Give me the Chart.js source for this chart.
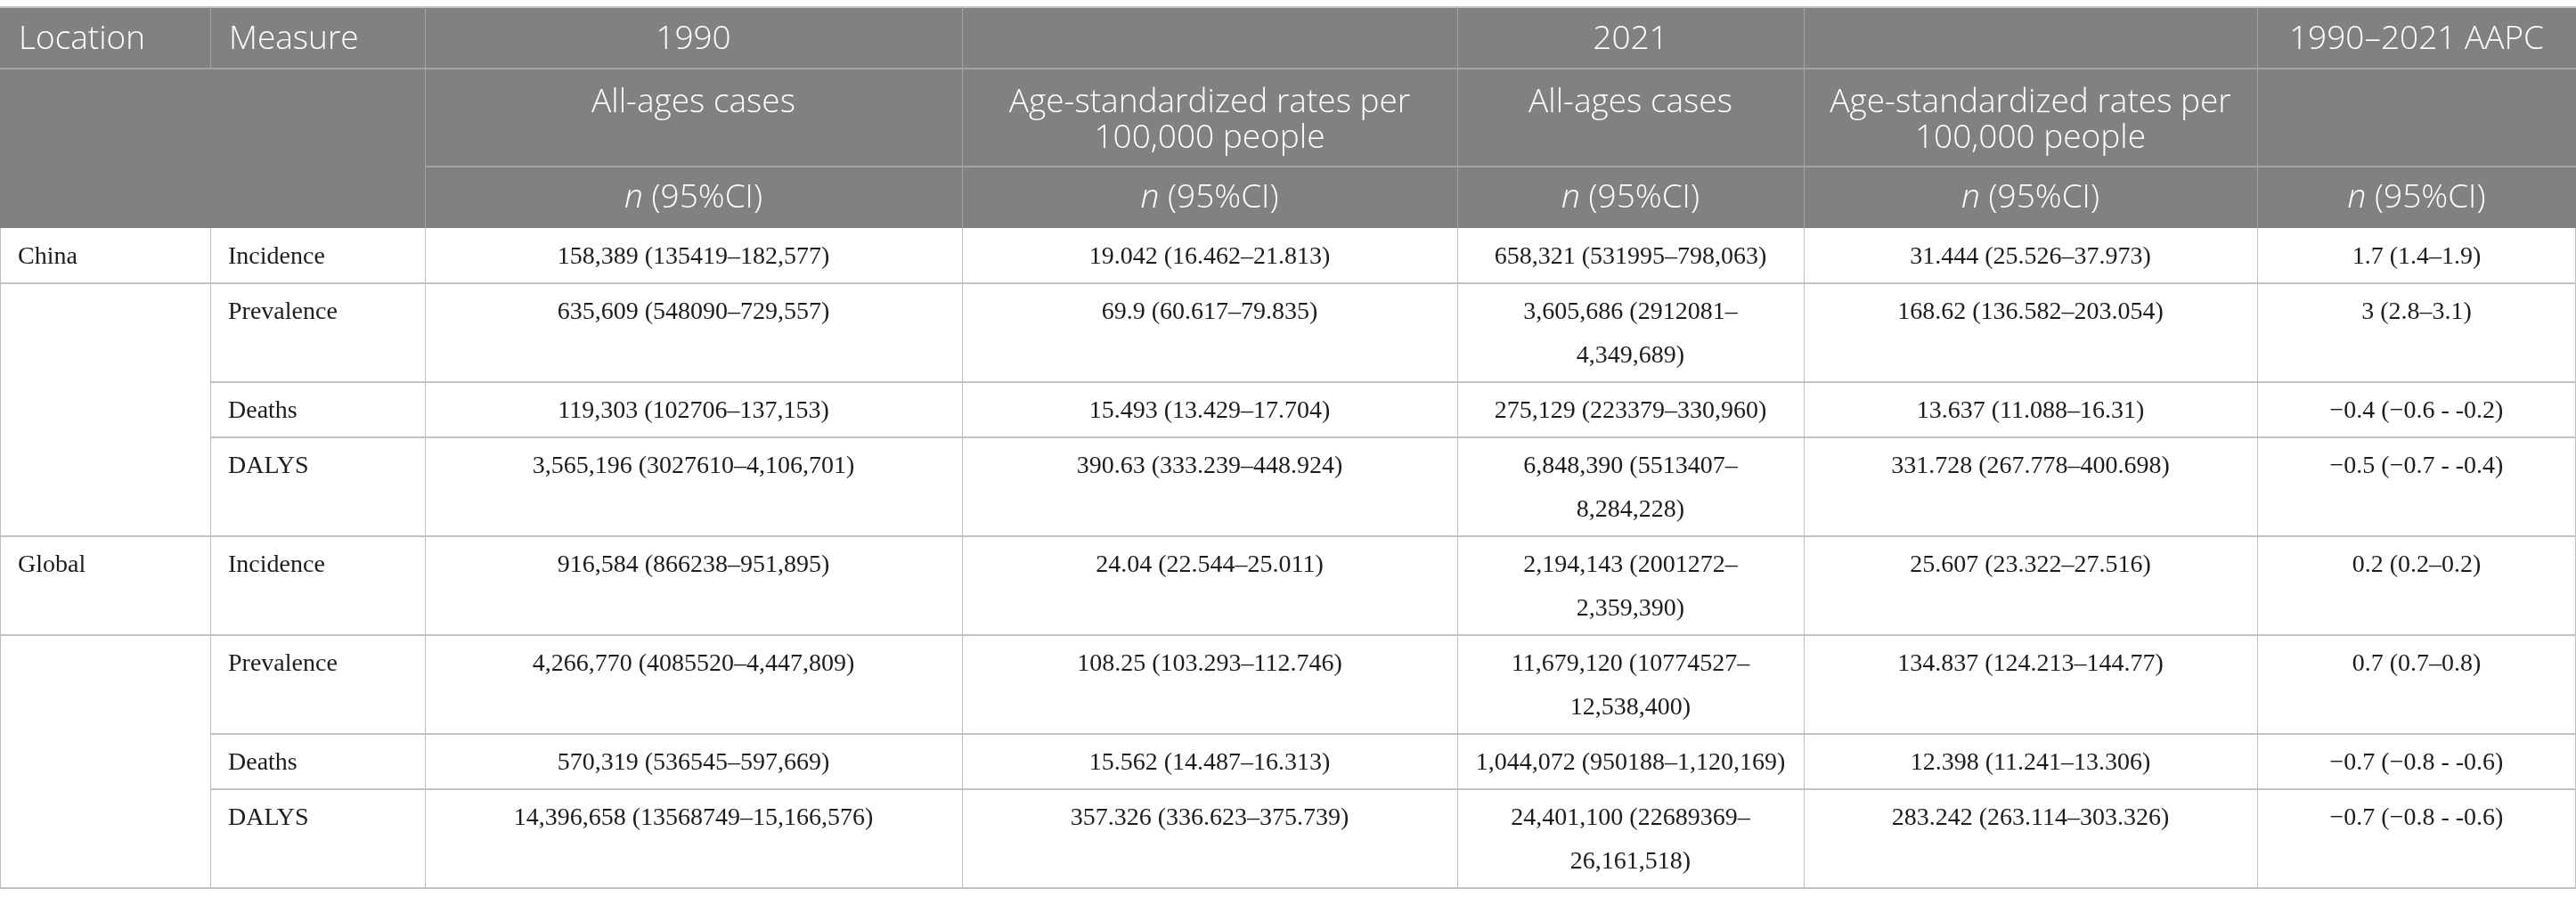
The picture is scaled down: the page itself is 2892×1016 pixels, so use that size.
<!DOCTYPE html>
<html>
<head>
<meta charset="utf-8">
<script src="https://cdn.jsdelivr.net/npm/chart.js@4"></script>
<style>
  html, body { margin: 0; padding: 0; background: #fff; }
  #wrap { width: 2892px; height: 1016px; position: relative; }
</style>
</head>
<body>
<div id="wrap"><canvas id="tabla"></canvas></div>
<script>
// table contents
const yearHeaders = ['Location', 'Measure', '1990', '', '2021', '', '1990–2021 AAPC'];
const subHeaders = ['', '', 'All-ages cases', 'Age-standardized rates per 100,000 people',
                    'All-ages cases', 'Age-standardized rates per 100,000 people', ''];
const unitHeaders = ['', '', 'n (95%CI)', 'n (95%CI)', 'n (95%CI)', 'n (95%CI)', 'n (95%CI)'];

const locations = ['China', 'Global'];
const measures = ['Incidence', 'Prevalence', 'Deaths', 'DALYS'];

const cases1990 = ['158,389 (135419–182,577)', '635,609 (548090–729,557)', '119,303 (102706–137,153)',
  '3,565,196 (3027610–4,106,701)', '916,584 (866238–951,895)', '4,266,770 (4085520–4,447,809)',
  '570,319 (536545–597,669)', '14,396,658 (13568749–15,166,576)'];
const rates1990 = ['19.042 (16.462–21.813)', '69.9 (60.617–79.835)', '15.493 (13.429–17.704)',
  '390.63 (333.239–448.924)', '24.04 (22.544–25.011)', '108.25 (103.293–112.746)',
  '15.562 (14.487–16.313)', '357.326 (336.623–375.739)'];
const cases2021 = ['658,321 (531995–798,063)', '3,605,686 (2912081–4,349,689)', '275,129 (223379–330,960)',
  '6,848,390 (5513407–8,284,228)', '2,194,143 (2001272–2,359,390)', '11,679,120 (10774527–12,538,400)',
  '1,044,072 (950188–1,120,169)', '24,401,100 (22689369–26,161,518)'];
const rates2021 = ['31.444 (25.526–37.973)', '168.62 (136.582–203.054)', '13.637 (11.088–16.31)',
  '331.728 (267.778–400.698)', '25.607 (23.322–27.516)', '134.837 (124.213–144.77)',
  '12.398 (11.241–13.306)', '283.242 (263.114–303.326)'];
const aapc = ['1.7 (1.4–1.9)', '3 (2.8–3.1)', '−0.4 (−0.6 - -0.2)', '−0.5 (−0.7 - -0.4)',
  '0.2 (0.2–0.2)', '0.7 (0.7–0.8)', '−0.7 (−0.8 - -0.6)', '−0.7 (−0.8 - -0.6)'];

// layout (in scale units = px)
const colWidths = [236, 241, 603, 556, 389, 509, 358];
const tableTop = 8;
const headHeights = [69, 110, 69];
const bodyRow = 62, bodyLine = 49, headLine = 40;
const W = colWidths.reduce((a, b) => a + b, 0);
const H = 1016;

const headFont = '300 37px "Open Sans"';
const headItalic = 'italic 300 37px "Open Sans"';
const bodyFont = '28px "Liberation Serif"';

const edges = [0];
colWidths.forEach(w => edges.push(edges[edges.length - 1] + w));

function wrap(ctx, text, maxW) {
  const parts = text.match(/[^ –]*[ –]?/g).filter(p => p.length);
  const lines = [];
  let line = '';
  parts.forEach(p => {
    const test = line + p;
    if (line && ctx.measureText(test.trimEnd()).width > maxW) {
      lines.push(line.trimEnd());
      line = p;
    } else {
      line = test;
    }
  });
  if (line) lines.push(line.trimEnd());
  return lines;
}

function hline(ctx, x0, x1, y, color, w) {
  ctx.strokeStyle = color; ctx.lineWidth = w;
  ctx.beginPath(); ctx.moveTo(x0, y); ctx.lineTo(x1, y); ctx.stroke();
}
function vline(ctx, x, y0, y1, color, w) {
  ctx.strokeStyle = color; ctx.lineWidth = w;
  ctx.beginPath(); ctx.moveTo(x, y0); ctx.lineTo(x, y1); ctx.stroke();
}

const tablePlugin = {
  id: 'tabla',
  afterDraw(chart) {
    const ctx = chart.ctx;
    const xs = chart.scales.x, ys = chart.scales.y;
    const X = v => xs.getPixelForValue(v);
    const Y = v => ys.getPixelForValue(v);

    // header rows
    const hEdges = [tableTop];
    headHeights.forEach(h => hEdges.push(hEdges[hEdges.length - 1] + h));
    const headBottom = hEdges[3];

    // body rows, height from wrapped lines
    ctx.font = bodyFont;
    const rows = [];
    locations.forEach((loc, li) => {
      measures.forEach((m, mi) => {
        const i = li * measures.length + mi;
        const cells = [mi === 0 ? loc : '', m, cases1990[i], rates1990[i], cases2021[i], rates2021[i], aapc[i]];
        const wrapped = cells.map((c, ci) => ci < 2 ? [c] : wrap(ctx, c, colWidths[ci] - 34));
        const n = Math.max(...wrapped.map(w => w.length));
        rows.push({ wrapped, n, first: mi === 0, last: mi === measures.length - 1 });
      });
    });
    const bEdges = [headBottom];
    rows.forEach(r => bEdges.push(bEdges[bEdges.length - 1] + bodyRow + bodyLine * (r.n - 1)));

    ctx.save();
    // header background
    ctx.fillStyle = '#808180';
    ctx.fillRect(X(0), Y(tableTop), X(W) - X(0), Y(headBottom) - Y(tableTop));

    // header grid
    const hc = '#a2a3a2';
    hline(ctx, X(0), X(W), Y(tableTop), '#c4c4c4', 2);
    hline(ctx, X(0), X(W), Y(hEdges[1]), hc, 2);
    hline(ctx, X(edges[2]), X(W), Y(hEdges[2]), hc, 2);
    for (let c = 1; c < edges.length - 1; c++) {
      vline(ctx, X(edges[c]) + 0.5, Y(tableTop), Y(c === 1 ? hEdges[1] : headBottom), hc, 1);
    }

    // header text
    ctx.fillStyle = '#ffffff';
    ctx.textBaseline = 'middle';
    ctx.font = headFont;
    yearHeaders.forEach((t, c) => {
      if (!t) return;
      const y = Y(hEdges[0] + 36);
      if (c < 2) { ctx.textAlign = 'left'; ctx.fillText(t, X(edges[c]) + 21, y); }
      else { ctx.textAlign = 'center'; ctx.fillText(t, X((edges[c] + edges[c + 1]) / 2), y); }
    });
    subHeaders.forEach((t, c) => {
      if (!t) return;
      ctx.font = headFont;
      ctx.textAlign = 'center';
      const lines = wrap(ctx, t, colWidths[c] - 20);
      lines.forEach((ln, k) => ctx.fillText(ln, X((edges[c] + edges[c + 1]) / 2), Y(hEdges[1] + 38 + k * headLine)));
    });
    unitHeaders.forEach((t, c) => {
      if (!t) return;
      const cx = X((edges[c] + edges[c + 1]) / 2), y = Y(hEdges[2] + 35);
      const first = t.slice(0, 1), rest = t.slice(1);
      ctx.font = headItalic; const w1 = ctx.measureText(first).width;
      ctx.font = headFont; const w2 = ctx.measureText(rest).width;
      const x0 = cx - (w1 + w2) / 2;
      ctx.textAlign = 'left';
      ctx.font = headItalic; ctx.fillText(first, x0, y);
      ctx.font = headFont; ctx.fillText(rest, x0 + w1, y);
    });

    // body grid: lines under a location's first and last row run across the location column
    const gc = '#c2c2c2';
    rows.forEach((r, i) => {
      const yb = Y(bEdges[i + 1]);
      const full = r.first || r.last;
      hline(ctx, full ? X(0) : X(edges[1]), X(W), yb, gc, 2);
    });
    for (let c = 0; c < edges.length; c++) {
      const x = c === edges.length - 1 ? X(edges[c]) - 0.5 : X(edges[c]) + 0.5;
      vline(ctx, x, Y(headBottom), Y(bEdges[bEdges.length - 1]), '#bdbdbd', 1);
    }

    // body text
    ctx.fillStyle = '#1c1c1c';
    ctx.font = bodyFont;
    ctx.textBaseline = 'middle';
    rows.forEach((r, i) => {
      const top = bEdges[i];
      r.wrapped.forEach((lines, c) => {
        lines.forEach((ln, k) => {
          if (!ln) return;
          const y = Y(top + 33 + k * bodyLine);
          if (c < 2) { ctx.textAlign = 'left'; ctx.fillText(ln, X(edges[c]) + 20, y); }
          else { ctx.textAlign = 'center'; ctx.fillText(ln, X((edges[c] + edges[c + 1]) / 2), y); }
        });
      });
    });
    ctx.restore();
  }
};

new Chart(document.getElementById('tabla'), {
  type: 'scatter',
  data: { datasets: [{ data: [], showLine: false }] },
  options: {
    responsive: true,
    maintainAspectRatio: false,
    devicePixelRatio: 1,
    animation: false,
    layout: { padding: 0 },
    events: [],
    plugins: { legend: { display: false }, tooltip: { enabled: false } },
    scales: {
      x: { type: 'linear', min: 0, max: W, display: false },
      y: { type: 'linear', min: 0, max: H, reverse: true, display: false }
    }
  },
  plugins: [tablePlugin]
});
</script>
</body>
</html>
